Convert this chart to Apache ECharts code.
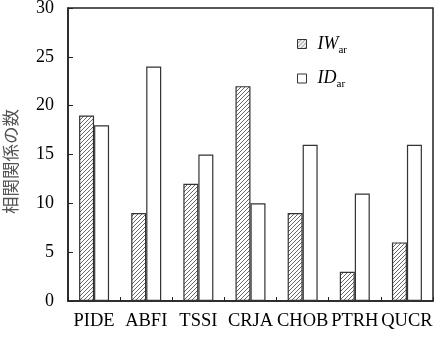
<!DOCTYPE html>
<html>
<head>
<meta charset="utf-8">
<script src="https://cdn.jsdelivr.net/npm/echarts@6/dist/echarts.min.js"></script>
<style>
  html, body { margin: 0; padding: 0; background: #fff; }
  #main { width: 437px; height: 340px; }
</style>
</head>
<body>
<div id="main"></div>
<script>
var categories = ['PIDE', 'ABFI', 'TSSI', 'CRJA', 'CHOB', 'PTRH', 'QUCR'];
var iwValues = [19, 9, 12, 22, 9, 3, 6];
var idValues = [18, 24, 15, 10, 16, 11, 16];

// diagonal hatch for the IW bars
function hatch() {
  var c = document.createElement('canvas');
  c.width = 4; c.height = 4;
  var ctx = c.getContext('2d');
  ctx.fillStyle = '#fff';
  ctx.fillRect(0, 0, 4, 4);
  ctx.strokeStyle = '#666';
  ctx.lineWidth = 1;
  ctx.beginPath();
  ctx.moveTo(0, 4); ctx.lineTo(4, 0);
  ctx.moveTo(-1, 1); ctx.lineTo(1, -1);
  ctx.moveTo(3, 5); ctx.lineTo(5, 3);
  ctx.stroke();
  return c;
}

var serif = '"Liberation Serif", "Times New Roman", serif';
var chart = echarts.init(document.getElementById('main'));

var option = {
  animation: false,
  grid: {
    left: 68, right: 4, top: 8, bottom: 39,
    outerBoundsMode: 'none',
    containLabel: false,
    show: true, borderColor: '#222', borderWidth: 1.5
  },
  legend: {
    orient: 'vertical',
    left: 292, top: 30,
    icon: 'rect',
    itemWidth: 9, itemHeight: 9,
    itemGap: 14,
    itemStyle: { borderColor: '#333', borderWidth: 1 },
    textStyle: {
      fontFamily: serif, fontSize: 18, color: '#000',
      padding: [0, 0, 0, 6],
      rich: {
        it: { fontFamily: serif, fontSize: 18, fontStyle: 'italic', color: '#000' },
        sub: { fontFamily: serif, fontSize: 11, color: '#000', verticalAlign: 'bottom', padding: [12, 0, 0, 0] }
      }
    },
    formatter: function (name) {
      return '{it|' + name.slice(0, 2) + '}{sub|' + name.slice(2) + '}';
    },
    data: ['IWar', 'IDar']
  },
  xAxis: {
    type: 'category',
    data: categories,
    axisLine: { lineStyle: { color: '#222', width: 1.5 } },
    axisTick: { show: true, interval: 0, inside: true, length: 4, lineStyle: { color: '#222' } },
    axisLabel: { interval: 0, fontFamily: serif, fontSize: 18.5, color: '#000', margin: 11 }
  },
  yAxis: {
    type: 'value',
    min: 0, max: 30, interval: 5,
    name: '相関関係の数',
    nameLocation: 'middle',
    nameGap: 49,
    nameTextStyle: { fontFamily: '"Noto Sans CJK JP"', fontSize: 17.5, color: '#555', padding: [0, 14, 0, 0] },
    splitLine: { show: false },
    axisLine: { show: true, lineStyle: { color: '#222', width: 1.5 } },
    axisTick: { show: true, inside: true, length: 5, lineStyle: { color: '#222' } },
    axisLabel: { fontFamily: serif, fontSize: 18, color: '#000', margin: 14 }
  },
  series: [
    {
      name: 'IWar',
      type: 'bar',
      barWidth: 15,
      barGap: '0%',
      data: iwValues,
      itemStyle: { color: { image: hatch(), repeat: 'repeat' }, borderColor: '#333', borderWidth: 1.2 }
    },
    {
      name: 'IDar',
      type: 'bar',
      barWidth: 15,
      data: idValues,
      itemStyle: { color: '#fff', borderColor: '#333', borderWidth: 1.2 }
    }
  ]
};

chart.setOption(option);
</script>
</body>
</html>
